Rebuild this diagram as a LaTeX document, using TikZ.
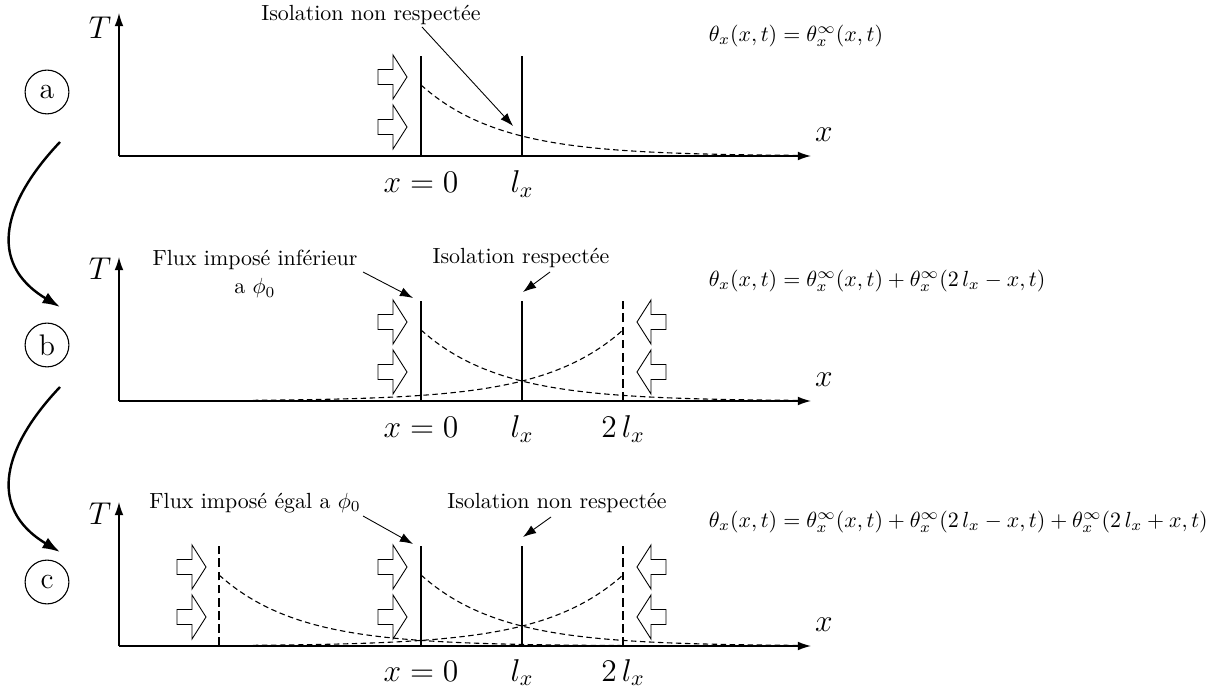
\documentclass[tikz,border=0pt]{standalone}
\usepackage{amsmath}
\usepackage{tikz}
\usetikzlibrary{arrows.meta}

\tikzset{
	axe/.style={line width=0.6pt, -{Latex[length=6pt, width=4pt]}},
	paroi/.style={line width=0.6pt},
	paroifictive/.style={line width=0.6pt, dash pattern=on 4pt off 2pt},
	profil/.style={line width=0.5pt, dash pattern=on 2.5pt off 1.6pt},
	renvoi/.style={line width=0.4pt, -{Latex[length=6pt, width=4.2pt]}},
	passage/.style={line width=1.1pt, -{Latex[length=8pt, width=5.5pt]}},
	etape/.style={shape=circle, draw, line width=0.5pt, minimum size=20pt, inner sep=0pt, font=\fontsize{13.6}{16}\selectfont},
	grand/.style={font=\fontsize{13.6}{16}\selectfont},
	flux droite/.pic={\draw[line width=0.4pt] (0,0) -- (-14,-22) -- (-14,-7.5) -- (-29,-7.5) -- (-29,7.5) -- (-14,7.5) -- (-14,22) -- cycle;},
	flux gauche/.pic={\draw[line width=0.4pt] (0,0) -- (14,-22) -- (14,-7.5) -- (29,-7.5) -- (29,7.5) -- (14,7.5) -- (14,22) -- cycle;}
}

\begin{document}
\begin{tikzpicture}[x=0.4566pt, y=-0.4566pt]
			\useasboundingbox (0,0) rectangle (1207,693);
			% Etapes a, b, c
			\node[etape] (a) at (47,92) {a};
			\node[etape] (b) at (47,345) {b};
			\node[etape] (c) at (47,582) {c};
			\coordinate (ab1) at (60,142);
			\coordinate (ab2) at (60,307);
			\coordinate (bc1) at (60,387);
			\coordinate (bc2) at (60,552);
			\draw[passage] (ab1) .. controls (5,200) and (-15,262) .. (ab2);
			\draw[passage] (bc1) .. controls (5,445) and (-15,507) .. (bc2);
			% Cas a
			\coordinate (Oa) at (119,156);
			\coordinate (TaTip) at (119,13);
			\coordinate (XaTip) at (811,156);
			\draw[axe] (Oa) -- (TaTip);
			\draw[axe] (Oa) -- (XaTip);
			\node[grand] (Ta) at (100,28) {$T$};
			\node[grand] (Xa) at (824,135) {$x$};
			\coordinate (Wa0) at (421,156);
			\coordinate (Wa0h) at (421,56);
			\coordinate (Wa1) at (522,156);
			\coordinate (Wa1h) at (522,56);
			\draw[paroi] (Wa0) -- (Wa0h);
			\draw[paroi] (Wa1) -- (Wa1h);
			\pic at (407,77) {flux droite};
			\pic at (407,127) {flux droite};
			\draw[profil] plot[domain=421:805, samples=80] (\x,{156-71*exp(-(\x-421)/79.5)});
			\node[grand, anchor=base] (x0a) at (421,193) {$x=0$};
			\node[grand, anchor=base] (lxa) at (522,193) {$l_x$};
			\node (isoa) at (371,15) {Isolation non respectée};
			\coordinate (isoa1) at (422,27);
			\coordinate (isoa2) at (513,126);
			\draw[renvoi] (isoa1) -- (isoa2);
			\node[anchor=west] (eqa) at (701,36) {$\theta_x(x,t) = \theta^{\infty}_x(x,t)$};
			% Cas b
			\coordinate (Ob) at (119,401);
			\coordinate (TbTip) at (119,257);
			\coordinate (XbTip) at (811,401);
			\draw[axe] (Ob) -- (TbTip);
			\draw[axe] (Ob) -- (XbTip);
			\node[grand] (Tb) at (100,269) {$T$};
			\node[grand] (Xb) at (824,380) {$x$};
			\coordinate (Wb0) at (421,401);
			\coordinate (Wb0h) at (421,301);
			\coordinate (Wb1) at (522,401);
			\coordinate (Wb1h) at (522,301);
			\coordinate (Wb2) at (623,401);
			\coordinate (Wb2h) at (623,301);
			\draw[paroi] (Wb0) -- (Wb0h);
			\draw[paroi] (Wb1) -- (Wb1h);
			\draw[paroifictive] (Wb2) -- (Wb2h);
			\pic at (407,322) {flux droite};
			\pic at (407,372) {flux droite};
			\pic at (637,322) {flux gauche};
			\pic at (637,372) {flux gauche};
			\draw[profil] plot[domain=421:805, samples=80] (\x,{401-71*exp(-(\x-421)/79.5)});
			\draw[profil] plot[domain=253:623, samples=80] (\x,{401-71*exp((\x-623)/79.5)});
			\node[grand, anchor=base] (x0b) at (421,438) {$x=0$};
			\node[grand, anchor=base] (lxb) at (522,438) {$l_x$};
			\node[grand, anchor=base] (lx2b) at (623,438) {$2\,l_x$};
			\node[align=center] (fluxb) at (255,274) {Flux imposé inférieur\\[1pt]a $\phi_0$};
			\coordinate (fluxb1) at (363,272);
			\coordinate (fluxb2) at (413,298);
			\draw[renvoi] (fluxb1) -- (fluxb2);
			\node (isob) at (521,258) {Isolation respectée};
			\coordinate (isob1) at (550,272);
			\coordinate (isob2) at (523,292);
			\draw[renvoi] (isob1) -- (isob2);
			\node[anchor=west] (eqb) at (701,281) {$\theta_x(x,t) = \theta^{\infty}_x(x,t) + \theta^{\infty}_x(2\,l_x - x,t)$};
			% Cas c
			\coordinate (Oc) at (119,646);
			\coordinate (TcTip) at (119,502);
			\coordinate (XcTip) at (811,646);
			\draw[axe] (Oc) -- (TcTip);
			\draw[axe] (Oc) -- (XcTip);
			\node[grand] (Tc) at (100,514) {$T$};
			\node[grand] (Xc) at (824,625) {$x$};
			\coordinate (Wcm) at (219,646);
			\coordinate (Wcmh) at (219,546);
			\coordinate (Wc0) at (421,646);
			\coordinate (Wc0h) at (421,546);
			\coordinate (Wc1) at (522,646);
			\coordinate (Wc1h) at (522,546);
			\coordinate (Wc2) at (623,646);
			\coordinate (Wc2h) at (623,546);
			\draw[paroifictive] (Wcm) -- (Wcmh);
			\draw[paroi] (Wc0) -- (Wc0h);
			\draw[paroi] (Wc1) -- (Wc1h);
			\draw[paroifictive] (Wc2) -- (Wc2h);
			\pic at (206,567) {flux droite};
			\pic at (206,617) {flux droite};
			\pic at (407,567) {flux droite};
			\pic at (407,617) {flux droite};
			\pic at (637,567) {flux gauche};
			\pic at (637,617) {flux gauche};
			\draw[profil] plot[domain=219:805, samples=100] (\x,{646-71*exp(-(\x-219)/79.5)});
			\draw[profil] plot[domain=421:805, samples=80] (\x,{646-71*exp(-(\x-421)/79.5)});
			\draw[profil] plot[domain=253:623, samples=80] (\x,{646-71*exp((\x-623)/79.5)});
			\node[grand, anchor=base] (x0c) at (421,681) {$x=0$};
			\node[grand, anchor=base] (lxc) at (522,681) {$l_x$};
			\node[grand, anchor=base] (lx2c) at (623,681) {$2\,l_x$};
			\node (fluxc) at (255,503) {Flux imposé égal a $\phi_0$};
			\coordinate (fluxc1) at (363,516);
			\coordinate (fluxc2) at (413,544);
			\draw[renvoi] (fluxc1) -- (fluxc2);
			\node (isoc) at (557,503) {Isolation non respectée};
			\coordinate (isoc1) at (551,517);
			\coordinate (isoc2) at (523,537);
			\draw[renvoi] (isoc1) -- (isoc2);
			\node[anchor=west] (eqc) at (701,522) {$\theta_x(x,t) = \theta^{\infty}_x(x,t) + \theta^{\infty}_x(2\,l_x - x,t) + \theta^{\infty}_x(2\,l_x + x,t)$};
		\end{tikzpicture}
\end{document}
